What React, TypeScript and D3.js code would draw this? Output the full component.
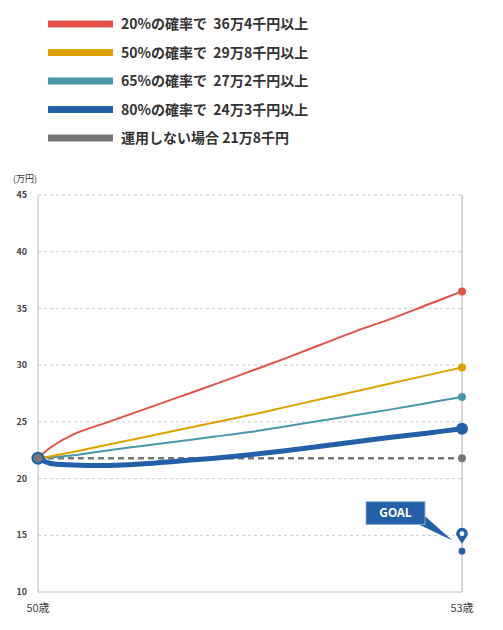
import * as d3 from 'd3'
import { useEffect, useRef } from 'react'

// months elapsed from age 50
const months = [0, 1, 3, 6, 9, 12, 15, 18, 21, 24, 27, 30, 33, 36]

// 万円
const p20 = [21.8, 22.7, 23.9, 25.0, 26.1, 27.2, 28.3, 29.45, 30.6, 31.8, 33.0, 34.1, 35.3, 36.5]
const p50 = [21.8, 21.95, 22.35, 23.0, 23.65, 24.3, 24.95, 25.6, 26.3, 27.0, 27.7, 28.4, 29.1, 29.8]
const p65 = [21.8, 21.85, 22.05, 22.5, 22.9, 23.3, 23.7, 24.1, 24.6, 25.1, 25.6, 26.1, 26.65, 27.2]
const p80 = [21.8, 21.35, 21.2, 21.15, 21.3, 21.55, 21.8, 22.1, 22.45, 22.85, 23.25, 23.65, 24.0, 24.4]
const noInvest = [21.8, 21.8, 21.8, 21.8, 21.8, 21.8, 21.8, 21.8, 21.8, 21.8, 21.8, 21.8, 21.8, 21.8]

const legendLabels = [
  '20%の確率で  36万4千円以上',
  '50%の確率で  29万8千円以上',
  '65%の確率で  27万2千円以上',
  '80%の確率で  24万3千円以上',
  '運用しない場合 21万8千円',
]
const yTicks = [10, 15, 20, 25, 30, 35, 40, 45]
const xTickLabels = ['50歳', '53歳']
const goalValue = 13.6
const goalLabel = 'GOAL'

const colors = ['#E05247', '#DEA200', '#4A97A9', '#2360A8', '#777777']

const font = "'Noto Sans CJK JP', 'Noto Sans', sans-serif"

const App = () => {
  const ref = useRef<SVGSVGElement>(null)

  useEffect(() => {
    const svg = d3.select(ref.current)
    svg.selectAll('*').remove()

    const x = d3.scaleLinear().domain([0, 36]).range([38, 462])
    const y = d3.scaleLinear().domain([10, 45]).range([592, 195])

    // legend
    const legend = svg.append('g').attr('font-family', font)
    legendLabels.forEach((label, i) => {
      const cy = 24 + i * 28.5
      legend
        .append('line')
        .attr('x1', 48)
        .attr('x2', 113)
        .attr('y1', cy)
        .attr('y2', cy)
        .attr('stroke', colors[i])
        .attr('stroke-width', 7)
      legend
        .append('text')
        .attr('x', 121)
        .attr('y', cy)
        .attr('dy', '0.36em')
        .attr('font-size', 14)
        .attr('font-weight', 700)
        .attr('fill', '#333')
        .style('white-space', 'pre')
        .text(label)
    })

    // unit
    svg
      .append('text')
      .attr('x', 13)
      .attr('y', 182)
      .attr('font-size', 9)
      .attr('font-family', font)
      .attr('fill', '#333')
      .text('(万円)')

    // grid
    svg
      .append('g')
      .selectAll('line')
      .data(yTicks.filter((d) => d > 10))
      .enter()
      .append('line')
      .attr('x1', x(0))
      .attr('x2', x(36))
      .attr('y1', (d) => y(d))
      .attr('y2', (d) => y(d))
      .attr('stroke', '#c8c8c8')
      .attr('stroke-dasharray', '3,3')

    // y labels
    svg
      .append('g')
      .selectAll('text')
      .data(yTicks)
      .enter()
      .append('text')
      .attr('x', 27)
      .attr('y', (d) => y(d))
      .attr('dy', '0.35em')
      .attr('text-anchor', 'end')
      .attr('font-size', 9)
      .attr('font-weight', 700)
      .attr('font-family', font)
      .attr('fill', '#444')
      .text((d) => d)

    // frame
    svg
      .append('line')
      .attr('x1', x(0))
      .attr('x2', x(0))
      .attr('y1', y(45))
      .attr('y2', y(10))
      .attr('stroke', '#d0d0d0')
      .attr('stroke-width', 1.5)
    svg
      .append('line')
      .attr('x1', x(36))
      .attr('x2', x(36))
      .attr('y1', y(45))
      .attr('y2', y(10))
      .attr('stroke', '#bbb')
      .attr('stroke-width', 1.2)
    svg
      .append('line')
      .attr('x1', x(0))
      .attr('x2', x(36))
      .attr('y1', y(10))
      .attr('y2', y(10))
      .attr('stroke', '#bbb')
      .attr('stroke-width', 1.2)

    // x labels
    svg
      .append('g')
      .selectAll('text')
      .data(xTickLabels)
      .enter()
      .append('text')
      .attr('x', (_, i) => x(i * 36))
      .attr('y', 608)
      .attr('dy', '0.35em')
      .attr('text-anchor', 'middle')
      .attr('font-size', 11)
      .attr('font-family', font)
      .attr('fill', '#444')
      .text((d) => d)

    const line = d3
      .line<number>()
      .x((_, i) => x(months[i]))
      .y((d) => y(d))
      .curve(d3.curveCatmullRom.alpha(0.5))

    // series: no-invest first (bottom), then others
    const series = [
      { data: noInvest, color: colors[4], width: 2.5, dash: '6,4', r: 4 },
      { data: p80, color: colors[3], width: 5, dash: null, r: 6 },
      { data: p65, color: colors[2], width: 2, dash: null, r: 4 },
      { data: p50, color: colors[1], width: 2, dash: null, r: 4 },
      { data: p20, color: colors[0], width: 2, dash: null, r: 4 },
    ]
    series.forEach((s) => {
      svg
        .append('path')
        .datum(s.data)
        .attr('d', line)
        .attr('fill', 'none')
        .attr('stroke', s.color)
        .attr('stroke-width', s.width)
        .attr('stroke-dasharray', s.dash)
      svg
        .append('circle')
        .attr('cx', x(36))
        .attr('cy', y(s.data[s.data.length - 1]))
        .attr('r', s.r)
        .attr('fill', s.color)
    })

    // start point
    svg
      .append('circle')
      .attr('cx', x(0))
      .attr('cy', y(p80[0]))
      .attr('r', 6.5)
      .attr('fill', colors[3])
    svg
      .append('circle')
      .attr('cx', x(0))
      .attr('cy', y(noInvest[0]))
      .attr('r', 4.5)
      .attr('fill', colors[4])

    // goal
    const gx = x(36)
    const gy = y(goalValue)
    svg.append('circle').attr('cx', gx).attr('cy', gy).attr('r', 3.4).attr('fill', colors[3])
    const pin = svg.append('g').attr('transform', `translate(${gx},${gy - 17.5})`)
    pin
      .append('path')
      .attr('d', 'M-5.6,1.5 A5.8,5.8 0 1 1 5.6,1.5 L0,10 Z')
      .attr('fill', colors[3])
    pin.append('circle').attr('r', 2.4).attr('fill', '#fff')

    const callout = svg.append('g')
    callout
      .append('path')
      .attr('d', `M${gx - 46},${gy - 28} L${gx - 38},${gy - 36} L${gx - 10},${gy - 11} Z`)
      .attr('fill', colors[3])
    callout
      .append('rect')
      .attr('x', gx - 96)
      .attr('y', gy - 49.5)
      .attr('width', 59)
      .attr('height', 23)
      .attr('fill', colors[3])
      .attr('stroke', '#9db7d8')
      .attr('stroke-width', 0.8)
    callout
      .append('text')
      .attr('x', gx - 66.5)
      .attr('y', gy - 38)
      .attr('dy', '0.36em')
      .attr('text-anchor', 'middle')
      .attr('font-size', 12)
      .attr('font-weight', 600)
      .attr('font-family', font)
      .attr('fill', '#fff')
      .text(goalLabel)
  }, [])

  return <svg ref={ref} width={503} height={630} style={{ position: 'absolute', left: 0, top: 0 }} />
}

export default App
